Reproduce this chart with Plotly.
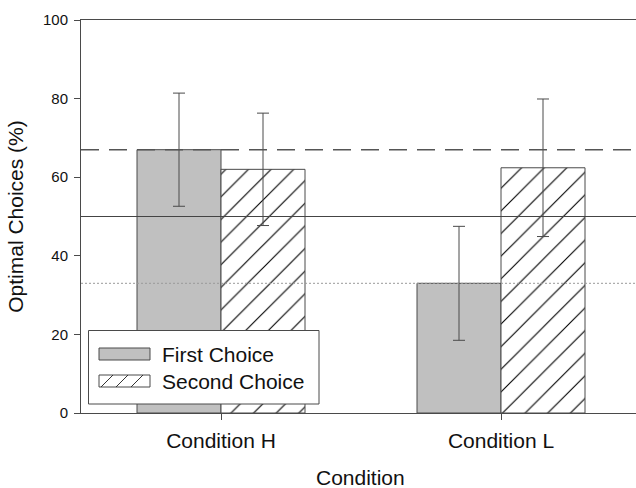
import plotly.graph_objects as go

# ---- data ----
conditions = ["Condition H", "Condition L"]
first_choice = [67.0, 33.0]
first_err = [14.4, 14.5]
second_choice = [62.0, 62.4]
second_err = [14.3, 17.5]
ref_dashed = 67.0
ref_solid = 50.0
ref_dotted = 33.0
y_ticks = [0, 20, 40, 60, 80, 100]
legend_labels = ["First Choice", "Second Choice"]
x_title = "Condition"
y_title = "Optimal Choices (%)"

W, H = 636, 488
ML, MT, MB, MR = 81, 20, 75, 0
PW, PH = W - ML - MR, H - MT - MB

FONT = "Liberation Sans, Arial, sans-serif"
AX = "#4a4a4a"
TXT = "#111111"
GRAY = "#c0c0c0"


def px(x):
    return (x - ML) / PW


def py(y):
    return (H - MB - y) / PH


fig = go.Figure()
fig.add_trace(go.Bar(
    x=conditions, y=first_choice, name=legend_labels[0],
    marker=dict(color=GRAY, line=dict(color=AX, width=1)),
    error_y=dict(type="data", array=first_err, color=AX, thickness=1, width=6),
    showlegend=False,
))
fig.add_trace(go.Bar(
    x=conditions, y=second_choice, name=legend_labels[1],
    marker=dict(color="white", line=dict(color=AX, width=1),
                pattern=dict(shape="/", size=16, solidity=0.07, fgopacity=1,
                             fgcolor="#000000", bgcolor="white", fillmode="replace")),
    error_y=dict(type="data", array=second_err, color=AX, thickness=1, width=6),
    showlegend=False,
))

shapes = []
# reference lines
for val, dash, col, w in [(ref_dashed, "18px,10px", "#555555", 1.5),
                          (ref_solid, "solid", "#444444", 1),
                          (ref_dotted, "2px,2px", "#999999", 1)]:
    shapes.append(dict(type="line", xref="paper", yref="y", x0=0, x1=1, y0=val, y1=val,
                       line=dict(color=col, width=w, dash=dash), layer="above"))

# custom legend
shapes.append(dict(type="rect", xref="paper", yref="paper",
                   x0=px(88.5), x1=px(319), y0=py(330.5), y1=py(404),
                   fillcolor="white", line=dict(color=AX, width=1), layer="above"))
shapes.append(dict(type="rect", xref="paper", yref="paper",
                   x0=px(99), x1=px(150), y0=py(348), y1=py(360),
                   fillcolor=GRAY, line=dict(color=AX, width=1), layer="above"))
shapes.append(dict(type="rect", xref="paper", yref="paper",
                   x0=px(99), x1=px(150), y0=py(375), y1=py(387),
                   fillcolor="white", line=dict(color=AX, width=1), layer="above"))
for x0 in [101, 116, 131]:
    shapes.append(dict(type="line", xref="paper", yref="paper",
                       x0=px(x0), x1=px(x0 + 12), y0=py(387), y1=py(375),
                       line=dict(color="#333333", width=1), layer="above"))

annotations = [
    dict(text=legend_labels[0], xref="paper", yref="paper", x=px(160), y=py(354),
         xanchor="left", yanchor="middle", showarrow=False,
         font=dict(family=FONT, size=21, color=TXT)),
    dict(text=legend_labels[1], xref="paper", yref="paper", x=px(160), y=py(381),
         xanchor="left", yanchor="middle", showarrow=False,
         font=dict(family=FONT, size=21, color=TXT)),
    dict(text=x_title, xref="paper", yref="paper", x=px(360.5), y=py(477),
         xanchor="center", yanchor="middle", showarrow=False,
         font=dict(family=FONT, size=21, color=TXT)),
]

fig.update_layout(
    width=W, height=H,
    margin=dict(l=ML, r=MR, t=MT, b=MB, pad=0),
    paper_bgcolor="white", plot_bgcolor="white",
    barmode="group", bargap=0.4, bargroupgap=0,
    font=dict(family=FONT, color=TXT),
    shapes=shapes, annotations=annotations,
    showlegend=False,
)
fig.update_xaxes(
    range=[-0.5, -0.5 + PW / 280.0], automargin=False,
    showline=True, linecolor=AX, linewidth=1, mirror=True,
    ticks="outside", ticklen=6, tickcolor=AX, tickwidth=1,
    showgrid=False, zeroline=False, ticklabelstandoff=3,
    tickfont=dict(family=FONT, size=21, color=TXT),
)
fig.update_yaxes(
    range=[0, 100], tickvals=y_ticks, automargin=False,
    showline=True, linecolor=AX, linewidth=1,
    ticks="outside", ticklen=6, tickcolor=AX, tickwidth=1,
    showgrid=False, zeroline=False, ticklabelstandoff=3,
    tickfont=dict(family=FONT, size=15, color=TXT),
    title=dict(text=y_title, font=dict(family=FONT, size=21, color=TXT), standoff=13),
)

fig.write_html("out.html")
